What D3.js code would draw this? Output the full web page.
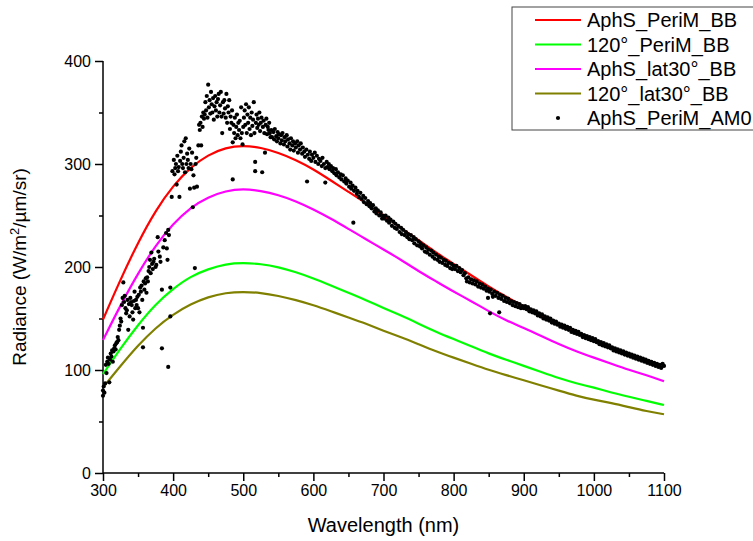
<!DOCTYPE html>
<html>
<head>
<meta charset="utf-8">
<script src="https://cdn.jsdelivr.net/npm/d3@7"></script>
<style>
  body { margin: 0; background: #fff; }
  svg { font-family: Arial, "Liberation Sans", sans-serif; }
</style>
</head>
<body>
<div id="chart-area"></div>
<script>
// wavelength grid for the blackbody curves (nm)
var bbWave = [300,325,350,375,400,425,450,475,500,525,550,575,600,625,650,675,700,
              725,750,775,800,825,850,875,900,925,950,975,1000,1025,1050,1075,1100];

var aphsPeriBB = [149,188,224,255,279,297,309,316,318,316,311,304,295,284,273,262,250,
                  238,226,214,203,192,181,171,162,153,144,136,129,122,115,109,103];
var p120PeriBB = [96,121,144,164,179,191,198,203,204,203,200,195,189,182,175,168,160,
                  153,145,137,130,123,116,110,104,98,92,87,83,78,74,70,66];
var aphsLat30BB = [129,163,194,221,242,258,268,274,276,274,270,264,256,247,237,227,217,
                   207,196,186,176,167,157,148,141,133,125,118,112,106,100,95,89];
var p120Lat30BB = [83,104,124,141,154,164,171,175,176,175,172,168,163,157,151,145,138,
                   132,125,118,112,106,100,95,90,85,80,75,71,68,64,60,57];

// measured AM0 points [wavelength, radiance]
var am0Points = [
  [300,75],[300,80],[301,84],[302,78],[303,87],[304,105],[305,97],[306,108],[307,112],[308,106],
  [309,88],[310,110],[311,116],[312,113],[313,119],[314,108],[315,118],[316,121],[317,124],[318,120],
  [319,126],[320,127],[321,132],[322,129],[323,139],[324,143],[325,150],[326,147],[327,163],[328,170],
  [329,185],[330,166],[331,172],[332,160],[333,155],[334,158],[335,168],[336,139],[337,164],[338,152],
  [339,170],[340,166],[341,163],[342,156],[343,149],[344,167],[345,176],[346,160],[347,168],[348,163],
  [349,171],[350,160],[351,173],[352,156],[353,180],[354,176],[355,182],[356,168],[357,141],[357,122],
  [358,186],[359,178],[360,184],[361,189],[362,175],[363,190],[364,186],[365,196],[366,200],[367,207],
  [368,194],[369,214],[370,203],[371,198],[372,205],[373,208],[375,200],[376,202],[378,229],[379,215],
  [381,210],[382,205],[384,178],[384,121],[386,219],[388,226],[390,233],[391,218],[392,207],[393,103],
  [393,236],[394,231],[396,152],[396,180],[398,268],[399,293],
  [401,304],[402,290],[403,296],[404,300],[405,280],[406,308],[407,293],[408,297],[409,268],[410,303],
  [411,312],[412,318],[413,300],[414,296],[415,306],[416,322],[417,292],[418,325],[419,300],[420,310],
  [421,304],[422,296],[423,315],[424,276],[425,300],[426,295],[427,311],[428,258],[429,289],[430,277],
  [431,199],[432,300],[433,306],[434,278],[436,318],[437,338],[438,333],[439,340],[440,318],[441,346],
  [442,336],[443,350],[444,344],[445,348],[446,360],[447,352],[448,366],[449,345],[450,377],[451,355],
  [452,362],[453,349],[454,370],[455,358],[456,350],[457,364],[458,343],[459,356],[460,366],[461,352],
  [462,360],[463,346],[464,363],[465,368],[466,350],[467,357],[468,370],[469,346],[470,330],[471,360],
  [472,349],[473,362],[474,354],[475,345],[476,368],[477,340],[478,356],[479,350],[480,362],[481,334],
  [482,346],[483,340],[484,352],[485,321],[485,285],[486,338],[487,330],[488,345],[489,325],[490,336],
  [491,348],[492,328],[493,340],[494,333],[495,342],[496,325],[497,355],[498,330],[499,319],[500,336],
  [501,345],[502,352],[503,338],[504,358],[505,330],[506,348],[507,340],[508,355],[509,334],[510,345],
  [511,328],[512,350],[513,337],[514,343],[515,360],[516,330],[517,302],[517,293],[518,340],[519,348],
  [520,335],[521,344],[522,338],[523,350],[524,332],[525,340],[526,345],[527,292],[528,336],[529,342],
  [530,330],[531,311],[532,338],[533,344],[534,329],[535,336],[536,333],[537,340],[538,330],[539,326],
  [540,333],[541,326],[543,331],[544,324],[545,334],[547,327],[548,322],[549,331],[550,325],[551,329],
  [553,320],[554,328],[555,323],[556,330],[558,319],[559,326],[560,322],[562,328],[563,317],[564,324],
  [566,320],[567,314],[568,325],[570,318],[571,322],[572,313],[574,320],[575,316],[577,322],[578,311],
  [579,318],[581,314],[582,320],[584,310],[585,316],[587,312],[588,307],[590,314],[591,283],[592,309],
  [594,305],[595,312],[597,303],[598,309],[600,306],[602,311],[603,302],[605,308],[607,300],[608,305],
  [610,303],[612,298],[613,306],[615,300],[617,282],[617,296],[619,302],[620,297],
  [622,300],[623,295],[625,298],[627,293],[628,296],[630,291],[632,295],[633,289],[635,292],[637,287],
  [639,290],[640,285],[642,289],[644,283],[646,286],[647,281],[649,284],[651,278],[653,282],[654,276],
  [656,279],[657,243],[658,274],[660,277],[662,271],[663,274],[665,268],[667,272],[669,266],[671,269],
  [672,263],[674,267],[676,261],[678,264],[680,259],[681,262],[683,257],[685,260],[687,254],[689,257],
  [690,252],[692,255],[694,250],[696,253],[698,247],[699,250],
  [701,247],[703,250],[705,245],[707,248],[708,243],[710,246],[712,240],[714,244],[716,238],[717,242],
  [719,237],[721,240],[723,234],[725,238],[726,232],[728,236],[730,231],[732,234],[734,229],[735,232],
  [737,227],[739,231],[741,226],[743,229],[744,223],[746,227],[748,221],[750,225],[752,220],[753,223],
  [755,218],[757,221],[759,215],[761,219],[762,214],[764,217],[766,212],[768,216],[770,210],[771,214],
  [773,208],[775,212],[777,207],[779,210],[780,205],[782,209],[784,204],[786,207],[788,202],[789,206],
  [791,201],[793,204],[795,199],[797,203],[798,198],
  [800,201],[802,198],[804,201],[806,196],[808,199],[810,195],[812,197],[814,192],[816,194],[818,189],
  [819,186],[821,190],[823,185],[825,188],[827,184],[829,187],[831,183],[833,186],[835,181],[837,184],
  [839,180],[841,183],[843,179],[845,181],[847,177],[849,170],[849,179],[851,176],[852,155],[853,178],
  [855,174],[856,171],[858,176],[860,172],[862,175],[864,170],[865,156],[866,173],[868,169],[870,172],
  [872,167],[874,170],[876,166],[878,169],[880,165],[882,167],[884,163],[886,166],[888,162],[890,165],
  [892,161],[894,164],[896,160],[898,162],
  [900,160],[902,162],[904,159],[906,161],[908,157],[910,159],[912,156],[914,158],[916,155],[918,157],
  [920,153],[922,155],[924,152],[926,154],[928,150],[930,152],[932,149],[934,151],[936,148],[938,150],
  [940,146],[942,148],[944,145],[946,147],[948,144],[950,145],[952,142],[954,144],[956,141],[958,143],
  [960,140],[962,142],[964,139],[966,141],[968,137],[970,139],[972,136],[974,138],[976,135],[978,137],
  [980,134],[982,135],[984,132],[986,134],[988,131],[990,133],[992,130],[994,132],[996,129],[998,131],
  [1000,128],[1002,130],[1004,127],[1006,128],[1008,125],[1010,127],[1012,124],[1014,126],[1016,123],[1018,125],
  [1020,122],[1022,124],[1024,121],[1026,122],[1028,119],[1030,121],[1032,118],[1034,120],[1036,117],[1038,119],
  [1040,116],[1042,118],[1044,115],[1046,117],[1048,114],[1050,116],[1052,113],[1054,115],[1056,112],[1058,114],
  [1060,111],[1062,113],[1064,110],[1066,112],[1068,109],[1070,111],[1072,108],[1074,110],[1076,107],[1078,109],
  [1080,106],[1082,108],[1084,105],[1086,107],[1088,104],[1090,106],[1092,103],[1094,105],[1096,102],[1098,106],
  [1100,104]
];

var seriesNames = ["AphS_PeriM_BB", "120°_PeriM_BB", "AphS_lat30°_BB", "120°_lat30°_BB"];
var seriesColors = ["#ff0000", "#00ff00", "#ff00ff", "#808000"];
var seriesValues = [aphsPeriBB, p120PeriBB, aphsLat30BB, p120Lat30BB];
var dotName = "AphS_PeriM_AM0";

var xTicks = [300,400,500,600,700,800,900,1000,1100];
var yTicks = [0,100,200,300,400];

var margin = {left: 103, right: 89, top: 61, bottom: 68};
var width = 753 - margin.left - margin.right;
var height = 541 - margin.top - margin.bottom;

var svg = d3.select("#chart-area")
  .append("svg")
  .attr("width", 753)
  .attr("height", 541);

var g = svg.append("g")
  .attr("transform", "translate(" + margin.left + "," + margin.top + ")");

var x = d3.scaleLinear().domain([300, 1100]).range([0, width]);
var y = d3.scaleLinear().domain([0, 400]).range([height, 0]);

// minor ticks
g.append("g")
  .attr("class", "x minor")
  .attr("transform", "translate(0," + height + ")")
  .call(d3.axisBottom(x).tickValues(d3.range(350, 1100, 100)).tickSize(4).tickFormat(""));
g.append("g")
  .attr("class", "y minor")
  .call(d3.axisLeft(y).tickValues(d3.range(50, 400, 100)).tickSize(4).tickFormat(""));

var xAxis = g.append("g")
  .attr("class", "x axis")
  .attr("transform", "translate(0," + height + ")")
  .call(d3.axisBottom(x).tickValues(xTicks).tickSize(8).tickPadding(4).tickFormat(d3.format("d")));

var yAxis = g.append("g")
  .attr("class", "y axis")
  .call(d3.axisLeft(y).tickValues(yTicks).tickSize(8).tickPadding(4).tickFormat(d3.format("d")));

g.selectAll(".domain").attr("stroke", "#000").attr("stroke-width", 1.5);
g.selectAll(".tick line").attr("stroke", "#000").attr("stroke-width", 1.5);
g.selectAll(".tick text").attr("font-size", "16px").attr("fill", "#000")
  .attr("font-family", "Arial, 'Liberation Sans', sans-serif");
g.select(".x.axis").selectAll(".domain").attr("d", "M0,0H" + width);
g.select(".y.axis").selectAll(".domain").attr("d", "M0," + height + "V0");
g.selectAll(".minor .domain").remove();

var line = d3.line()
  .x(function(d, i) { return x(bbWave[i]); })
  .y(function(d) { return y(d); })
  .curve(d3.curveBasis);

seriesValues.forEach(function(vals, i) {
  g.append("path")
    .datum(vals)
    .attr("fill", "none")
    .attr("stroke", seriesColors[i])
    .attr("stroke-width", 2.2)
    .attr("d", line);
});

g.selectAll("circle.am0")
  .data(am0Points)
  .enter().append("circle")
  .attr("class", "am0")
  .attr("cx", function(d) { return x(d[0]); })
  .attr("cy", function(d) { return y(d[1]); })
  .attr("r", 2.1)
  .attr("fill", "#000");

// axis labels
g.append("text")
  .attr("x", width / 2)
  .attr("y", height + 59)
  .attr("font-size", "20px")
  .attr("text-anchor", "middle")
  .text("Wavelength (nm)");

var yLabel = g.append("text")
  .attr("transform", "rotate(-90)")
  .attr("x", -(height / 2))
  .attr("y", -77)
  .attr("font-size", "19px")
  .attr("text-anchor", "middle");
yLabel.append("tspan").text("Radiance (W/m");
yLabel.append("tspan").attr("font-size", "13px").attr("dy", -7).text("2");
yLabel.append("tspan").attr("dy", 7).text("/µm/sr)");

// legend
var legend = svg.append("g").attr("transform", "translate(512,7)");
legend.append("rect")
  .attr("width", 260)
  .attr("height", 123)
  .attr("fill", "#fff")
  .attr("stroke", "#444")
  .attr("stroke-width", 1);

var rowY = function(i) { return 13 + i * 24.5; };

seriesNames.forEach(function(name, i) {
  legend.append("line")
    .attr("x1", 23).attr("x2", 69)
    .attr("y1", rowY(i)).attr("y2", rowY(i))
    .attr("stroke", seriesColors[i])
    .attr("stroke-width", 2.2);
  legend.append("text")
    .attr("x", 75)
    .attr("y", rowY(i))
    .attr("dy", "0.35em")
    .attr("font-size", "20px")
    .text(name);
});
legend.append("circle")
  .attr("cx", 46).attr("cy", rowY(4))
  .attr("r", 2.1).attr("fill", "#000");
legend.append("text")
  .attr("x", 75)
  .attr("y", rowY(4))
  .attr("dy", "0.35em")
  .attr("font-size", "20px")
  .text(dotName);
</script>
</body>
</html>
